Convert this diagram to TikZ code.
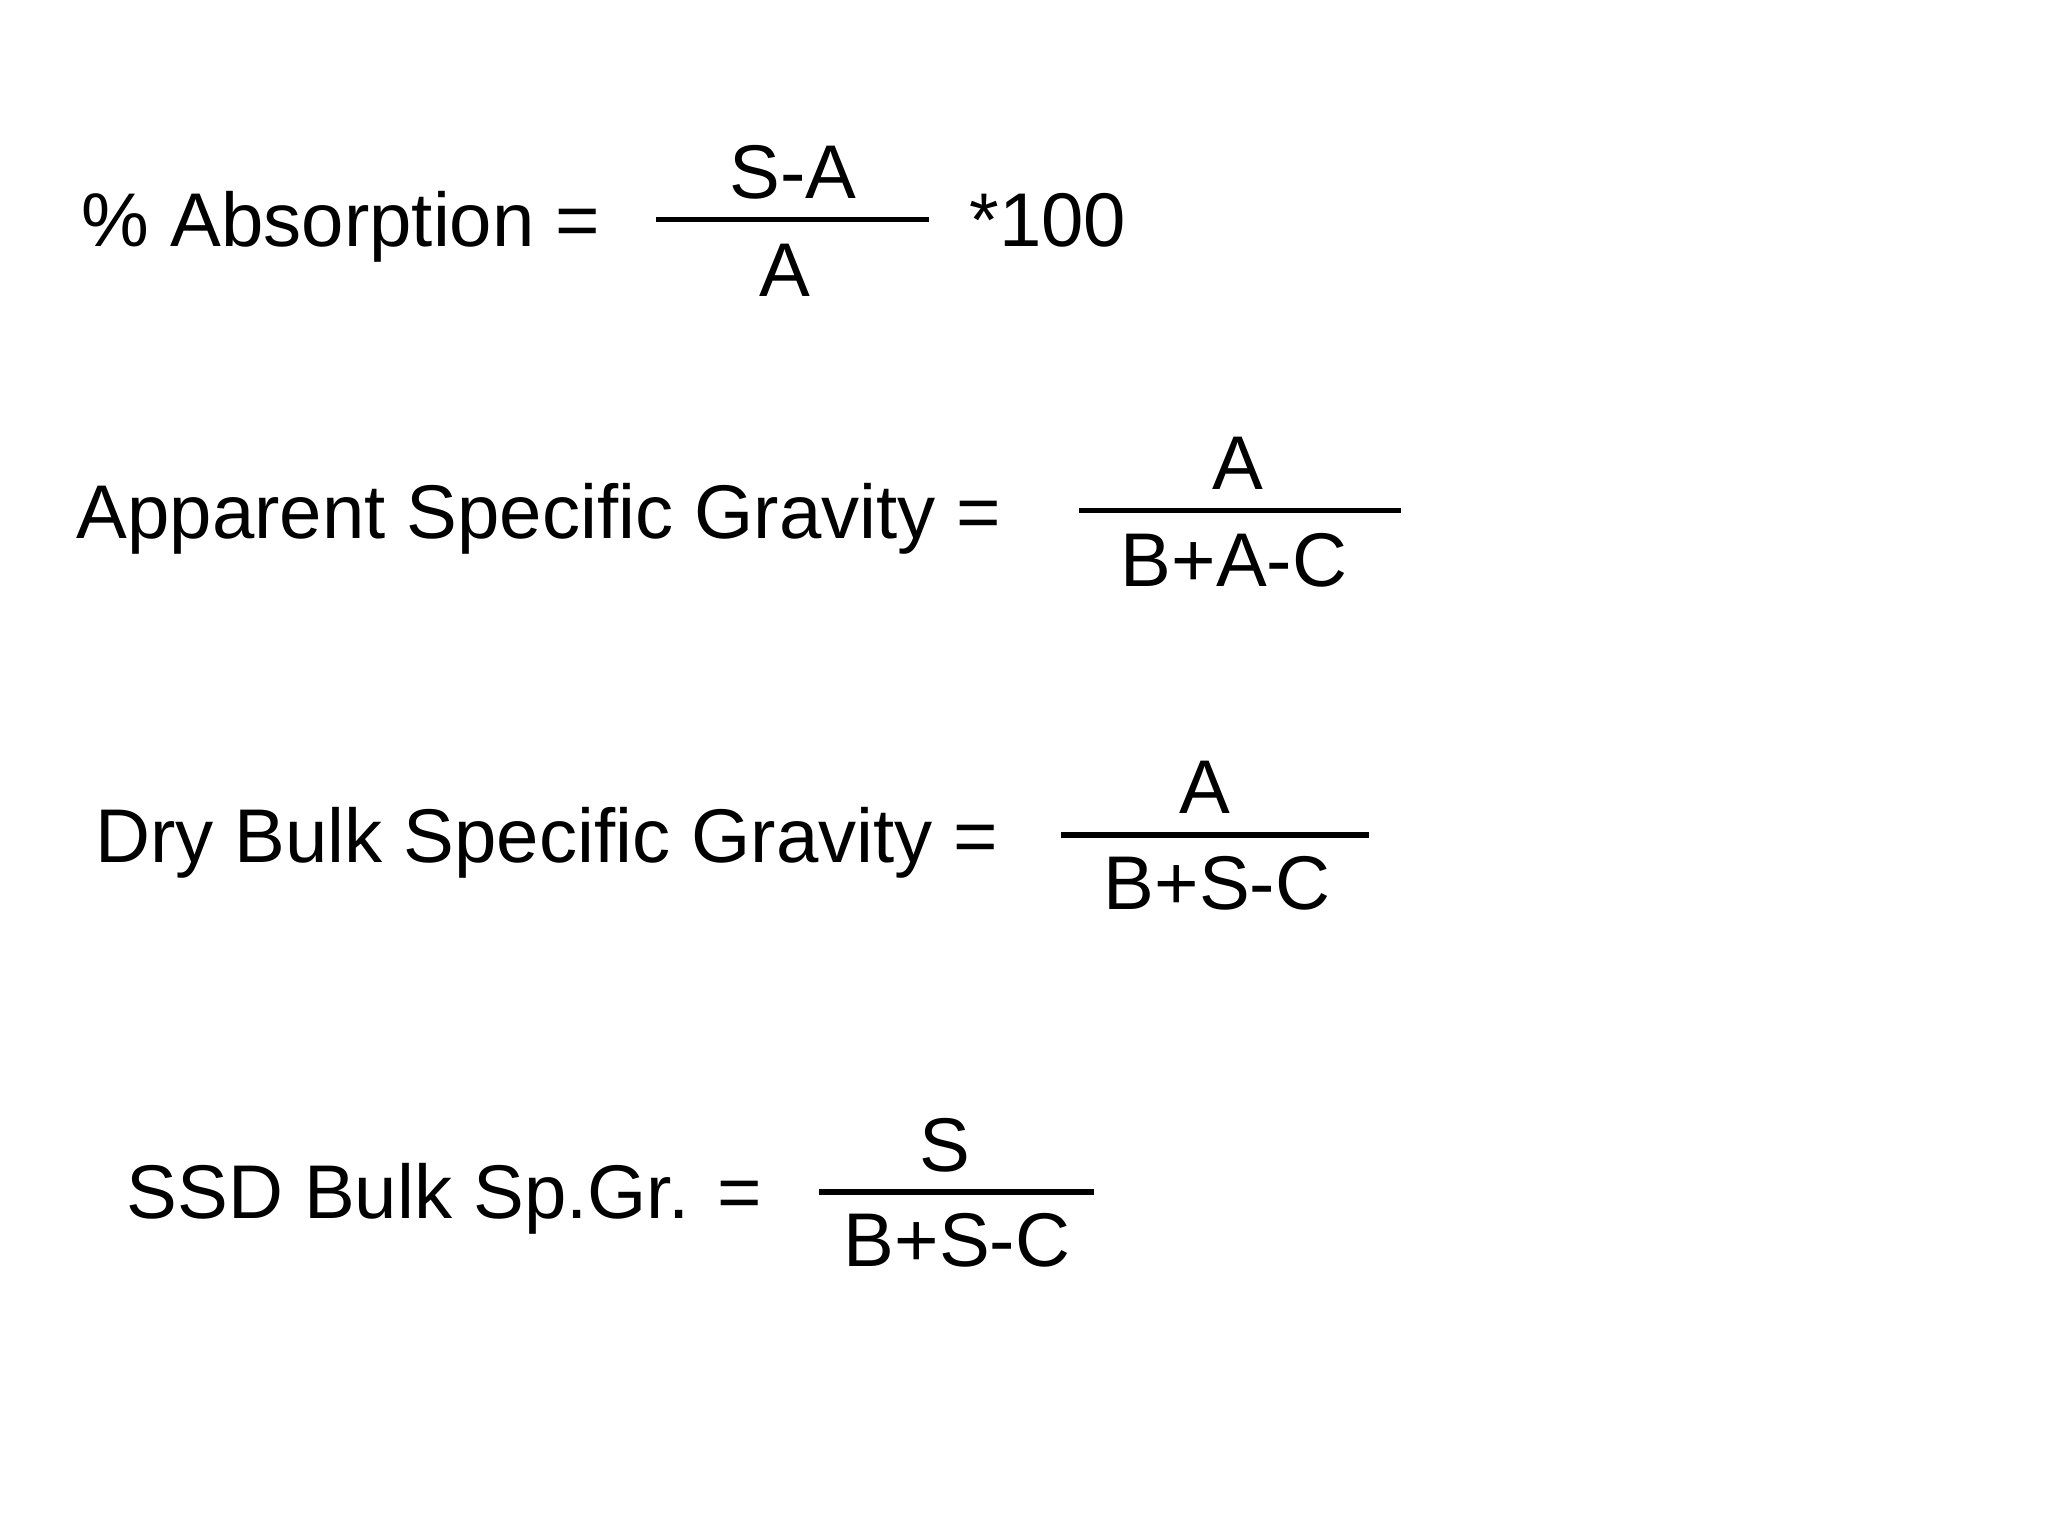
\documentclass[tikz,border=0pt]{standalone}
\usepackage{fontspec}
\setmainfont{Liberation Sans}
\begin{document}
\begin{tikzpicture}[x=0.5pt,y=-0.5pt,
  txt/.style={inner sep=0pt,font=\fontsize{29}{35}\selectfont},
  lbl/.style={txt,anchor=base west},
  frac/.style={txt,anchor=base},
  bar/.style={line width=2pt}]
\useasboundingbox (0,0) rectangle (1560,1170);
% Eq 1
\node[lbl] (l1) at (62,188) {\% Absorption =};
\node[frac] (n1) at (604,151) {S-A};
\node[frac] (d1) at (598,226) {A};
\coordinate (b1a) at (500,167); \coordinate (b1b) at (708,167);
\draw[bar] (b1a) -- (b1b);
\node[lbl] (m1) at (738,188) {*100};
% Eq 2
\node[lbl] (l2) at (58,410) {Apparent Specific Gravity =};
\node[frac] (n2) at (943,373) {A};
\node[frac] (d2) at (940,447) {B+A-C};
\coordinate (b2a) at (822,389); \coordinate (b2b) at (1067,389);
\draw[bar] (b2a) -- (b2b);
% Eq 3
\node[lbl] (l3) at (72,657) {Dry Bulk Specific Gravity =};
\node[frac] (n3) at (918,620) {A};
\node[frac] (d3) at (927,693) {B+S-C};
\coordinate (b3a) at (808,636); \coordinate (b3b) at (1043,636);
\draw[bar] (b3a) -- (b3b);
% Eq 4
\node[lbl] (l4) at (96,928) {SSD Bulk Sp.Gr. =};
\node[frac] (n4) at (720,892) {S};
\node[frac] (d4) at (729,965) {B+S-C};
\coordinate (b4a) at (624,908); \coordinate (b4b) at (833,908);
\draw[bar] (b4a) -- (b4b);
\end{tikzpicture}
\end{document}
